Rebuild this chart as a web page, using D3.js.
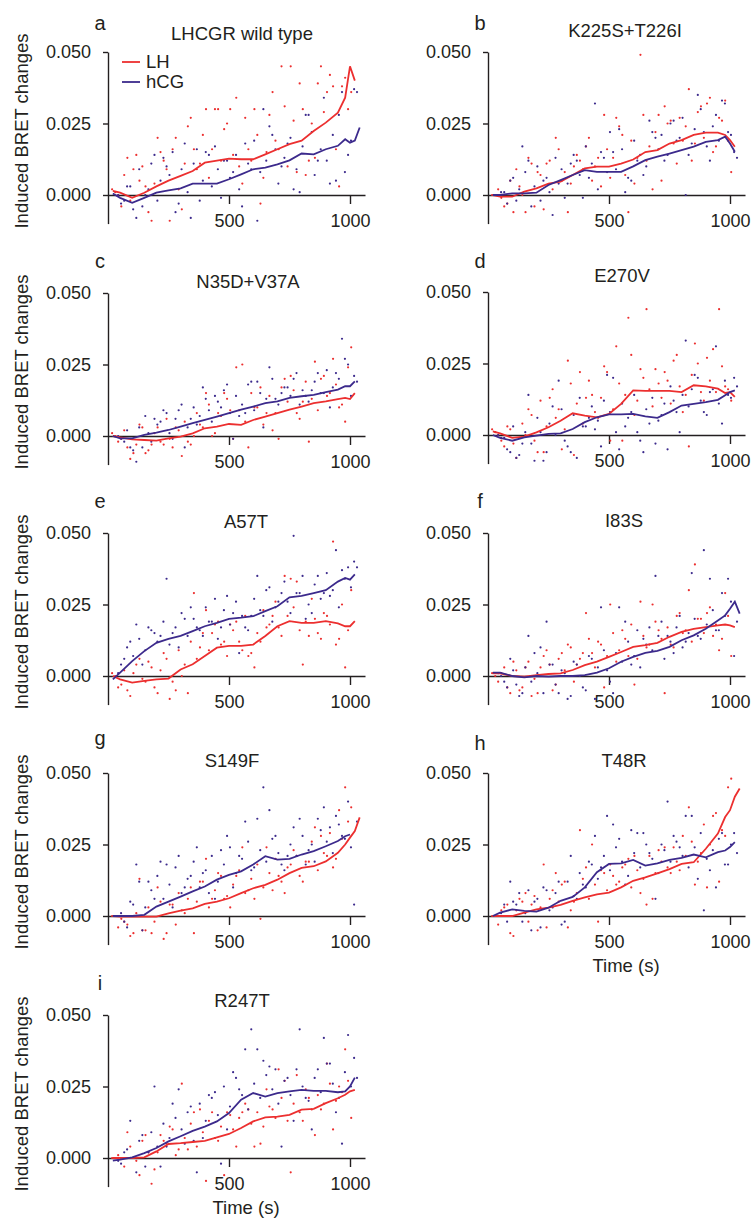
<!DOCTYPE html>
<meta charset="utf-8">

<script src="https://d3js.org/d3.v7.min.js"></script>

<style>
  body { margin: 0; background: #fff; }
  text { font-family: "Liberation Sans", Arial, sans-serif; fill: #231f20; }
  .axis path, .axis line { stroke: #231f20; stroke-width: 1.4px; }
  .axis text { font-size: 18px; }
</style>

<div id="chart"></div>

<script>
  // time points (s) of the smoothed traces
  const lineTime = [20, 50, 100, 150, 200, 250, 300, 350, 400, 450, 500, 550, 600, 650, 700, 750, 800, 850, 900, 950, 980, 1000, 1020, 1040];
  // time points (s) of the single readings (two interleaved sets per agonist)
  const dotTimeLH = [30, 55, 80, 105, 130, 155, 180, 205, 230, 255, 280, 305, 330, 355, 380, 405, 430, 455, 480, 505, 530, 555, 580, 605, 630, 655, 680, 705, 730, 755, 780, 805, 830, 855, 880, 905, 930, 955, 980, 1005];
  const dotTimeHCG = [42, 67, 92, 117, 142, 167, 192, 217, 242, 267, 292, 317, 342, 367, 392, 417, 442, 467, 492, 517, 542, 567, 592, 617, 642, 667, 692, 717, 742, 767, 792, 817, 842, 867, 892, 917, 942, 967, 992, 1017];
  const dotTimeLH2 = [17, 42, 67, 92, 117, 142, 167, 192, 217, 242, 267, 292, 317, 342, 367, 392, 417, 442, 467, 492, 517, 542, 567, 592, 617, 642, 667, 692, 717, 742, 767, 792, 817, 842, 867, 892, 917, 942, 967, 992];
  const dotTimeHCG2 = [54, 79, 104, 129, 154, 179, 204, 229, 254, 279, 304, 329, 354, 379, 404, 429, 454, 479, 504, 529, 554, 579, 604, 629, 654, 679, 704, 729, 754, 779, 804, 829, 854, 879, 904, 929, 954, 979, 1004, 1029];

  const yTicks = [0, 0.025, 0.05];
  const xTicks = [500, 1000];

  // a  LHCGR wild type
  const aLH = [.0014, .0008, -.001, .0008, .003, .005, .0067, .0084, .0113, .012, .0127, .0125, .0125, .0142, .016, .0178, .019, .0224, .0253, .0288, .034, .045, .040, null];
  const aHCG = [.0005, -.001, -.0027, -.001, .0008, .0016, .0023, .004, .004, .004, .0055, .0072, .009, .0096, .0107, .0121, .0145, .0142, .016, .0172, .0195, .0183, .019, .0236];
  const aLHdots = [.001, -.004, .013, .009, .005, .003, -.009, .020, .012, -.009, .020, -.005, .024, .016, .011, .030, .016, .030, .023, .030, .034, .004, .016, .030, -.003, .015, .036, .016, .031, .045, .008, .030, .012, .013, .045, .036, .038, .003, .041, .036];
  const aHCGdots = [.000, -.002, .003, -.008, -.004, .002, .014, .005, .010, .015, -.003, .018, -.008, .016, .005, .014, .017, -.001, .012, .008, .002, .018, .009, -.009, .030, .024, .016, .010, .018, .002, .001, .028, .022, .012, .034, .004, .005, .036, .014, .037];
  const aLHdots2 = [.002, .000, .007, -.002, .014, .010, -.006, .004, .015, .009, .016, .002, .011, .027, .009, .021, .006, .030, .012, .025, .014, .010, .027, .012, .021, .006, .028, .019, .045, .010, .026, .039, .007, .025, .039, .029, .042, .016, .038, .030];
  const aHCGdots2 = [-.003, .003, -.005, .009, .000, .011, -.002, .013, .007, -.006, .009, .001, .011, -.002, .015, .003, .009, .012, .006, .014, -.004, .011, .019, .008, .012, .021, .004, .013, .020, .009, .017, .028, .007, .016, .012, .021, .028, .008, .019, .036];

  // b  K225S+T226I
  const bLH = [0, -.0006, -.0006, .0012, .0023, .004, .0047, .007, .0093, .0099, .0099, .011, .0124, .015, .0157, .018, .0192, .021, .0218, .0218, .021, .0192, .0169, null];
  const bHCG = [0, 0, .0006, .0006, .0008, .0035, .0052, .007, .0087, .0081, .0081, .0081, .010, .0122, .0134, .0145, .0157, .0169, .0186, .0192, .0204, .018, .0151, null];
  const bLHdots = [.000, -.001, -.003, -.006, .003, -.006, .011, .008, -.005, .012, .020, .005, -.006, .010, .012, .017, .005, .013, .028, .006, .027, .021, -.006, .004, .049, .012, .002, .028, .031, .026, .011, .019, .037, .018, .031, .032, .015, .027, .033, .008];
  const bHCGdots = [.000, .001, .005, -.002, .017, .012, .003, -.002, .006, -.007, .004, -.001, .011, .012, -.001, .006, .032, .015, .008, .015, .023, .001, .005, .012, .007, .026, .020, .021, .014, .026, .020, .000, .018, .035, .022, .012, .028, .033, .022, .015];
  const bLHdots2 = [.000, .002, -.004, .005, .009, .000, .013, -.004, .007, .011, .002, .016, .008, .004, .014, .009, .020, .010, .003, .016, .013, .024, .007, .019, .013, .028, .017, .022, .005, .025, .018, .027, .024, .012, .029, .020, .034, .017, .026, .019];
  const bHCGdots2 = [.001, -.003, .006, .002, .008, -.004, .010, .005, .001, .013, .009, .004, .014, .007, .017, .011, .002, .013, .022, .009, .016, .006, .019, .014, .010, .022, .016, .012, .025, .019, .027, .014, .023, .030, .017, .024, .019, .032, .021, .013];

  // c  N35D+V37A
  const cLH = [0, -.0005, -.0012, -.0014, -.0016, -.0008, -.0002, .0009, .0027, .0033, .0042, .0039, .0056, .0068, .008, .0092, .0103, .0115, .0121, .0129, .0133, .0129, .015, null];
  const cHCG = [0, -.0008, -.0008, .0004, .0012, .0021, .0033, .0045, .0056, .0068, .008, .0092, .0103, .0115, .0121, .0133, .0139, .0144, .0153, .0162, .0174, .0174, .0191, null];
  const cLHdots = [.000, -.001, -.004, -.006, .004, -.006, -.003, .003, -.003, -.001, .003, -.007, -.002, .000, .004, .015, .000, .008, .015, .009, .024, .025, -.004, .010, .017, .008, .002, -.001, .020, .021, .008, .012, -.002, .026, .020, .014, .027, .010, .005, .031];
  const cHCGdots = [.000, -.002, -.004, -.009, -.004, .001, .006, .005, .008, -.001, .009, -.004, .006, .004, .017, .009, .014, .010, .018, -.001, .007, .008, .019, .019, .003, .024, .013, .015, .017, .020, .011, .014, .016, .022, .015, .010, .022, .034, .025, .021];
  const cLHdots2 = [.001, -.002, .002, -.008, -.003, .003, -.005, .001, -.002, .006, -.004, .002, .005, -.003, .008, .003, .011, .001, .007, .013, -.001, .009, .005, .015, .010, .004, .014, .008, .017, .012, .016, .006, .019, .013, .009, .021, .015, .018, .011, .024];
  const cHCGdots2 = [-.001, .002, -.005, .003, .007, -.002, .004, .009, .001, .006, .011, .003, .010, .007, .013, .005, .012, .016, .008, .014, .011, .018, .009, .015, .013, .020, .011, .017, .014, .022, .016, .012, .019, .015, .023, .017, .020, .027, .014, .019];

  // d  E270V
  const dLH = [.0013, .0006, -.001, -.0006, .0009, .0027, .005, .0076, .0068, .0062, .0074, .0109, .0156, .0154, .0154, .0154, .015, .0174, .017, .0162, .0147, .015, .0133, null];
  const dHCG = [0, -.001, -.002, -.0008, -.0002, .0004, .0006, .0021, .0045, .0062, .0072, .0072, .0074, .0065, .006, .008, .0103, .0109, .0115, .0123, .0139, .015, .0156, null];
  const dLHdots = [.001, -.002, .003, -.003, -.001, .000, .007, -.006, -.006, .013, .006, -.005, .026, -.007, .022, .013, .014, .006, .024, -.002, .031, -.002, .041, .007, .023, .044, .010, .018, .022, .011, .028, .008, -.004, .032, .015, .027, .030, .044, .017, .012];
  const dHCGdots = [.000, -.001, -.006, -.008, -.003, .014, -.009, .001, -.006, .010, .019, -.002, -.006, -.008, .003, .006, .002, -.004, .021, .020, -.005, .003, .008, .001, -.006, .004, -.003, .007, -.005, .012, .001, .033, .016, .020, .008, .015, .031, .004, .014, .020];
  const dLHdots2 = [.002, .000, -.004, .002, -.008, .004, .009, -.002, .012, .003, .016, .009, .002, .018, .011, .004, .019, .008, .013, .022, .009, .018, .014, .028, .012, .020, .016, .023, .013, .019, .026, .017, .014, .021, .025, .012, .019, .015, .024, .016];
  const dHCGdots2 = [-.001, -.005, .003, -.007, .001, -.003, .006, -.009, .004, .000, .009, -.004, .007, .013, .003, .010, .005, .012, .008, .001, .011, .006, .014, -.002, .009, .013, .005, .011, .017, .008, .014, .010, .021, .012, .007, .016, .011, .019, .013, .017];

  // e  A57T
  const eLH = [0, -.0012, -.0023, -.0017, -.0012, -.0009, .0023, .0041, .007, .0099, .0105, .0105, .011, .014, .0174, .0192, .0186, .0186, .0192, .0184, .0174, .0174, .0192, null];
  const eHCG = [-.0012, .0012, .0052, .0087, .0116, .013, .014, .0157, .0174, .0186, .020, .0204, .0209, .0227, .0244, .0275, .028, .029, .030, .033, .0343, .0337, .0355, null];
  const eLHdots = [.000, -.003, -.005, .001, .006, -.002, .003, -.006, .008, -.008, -.005, .000, -.006, .029, .010, .023, .015, .019, .012, .018, .019, .009, .007, .003, .012, .017, .021, .017, .035, .034, .033, .004, .014, .020, .013, .021, .047, .013, .003, .030];
  const eHCGdots = [.001, .006, .012, .018, .004, .017, .015, .014, .034, .015, .010, .020, .024, .017, .014, .019, .027, .017, .028, .022, .008, .017, .021, .035, .021, .031, .024, .029, .026, .049, .029, .020, .022, .035, .029, .028, .044, .037, .038, .040];
  const eLHdots2 = [.001, -.004, .002, -.007, .004, -.001, .005, -.004, .002, .006, -.002, .009, .004, .012, .006, .015, .009, .018, .011, .007, .016, .012, .021, .008, .015, .023, .018, .026, .014, .021, .024, .016, .019, .027, .015, .022, .018, .011, .025, .016];
  const eHCGdots2 = [.004, .010, .007, .013, .009, .016, .012, .019, .011, .017, .022, .014, .020, .016, .024, .019, .013, .023, .018, .026, .021, .016, .027, .023, .030, .019, .026, .033, .022, .029, .035, .025, .032, .027, .036, .030, .024, .034, .031, .038];

  // f  I83S
  const fLH = [.0009, .0009, 0, -.0002, .0003, .0007, .0009, .0021, .0038, .005, .0067, .0084, .0102, .0108, .0116, .0137, .0154, .0165, .0171, .0177, .018, .0177, .0171, null];
  const fHCG = [.0012, .0012, 0, -.0005, 0, -.0002, 0, 0, .0003, .0012, .0027, .005, .0067, .0081, .0088, .0102, .0125, .0142, .0165, .0194, .0212, .0235, .026, .0218];
  const fLHdots = [.000, .001, -.004, .005, -.005, .003, -.007, -.006, .007, .004, -.003, .008, .011, -.002, .006, .022, .008, .012, -.004, .025, .005, .016, .007, -.003, .026, .010, .025, .016, -.006, .011, .021, .015, .030, .039, .020, .022, .014, .009, .029, .007];
  const fHCGdots = [.001, -.002, .006, -.003, -.006, .014, .008, .010, .019, .004, -.006, .001, -.007, .004, -.004, .007, -.008, .024, .002, -.006, .024, .019, .004, .016, .013, .017, .035, .019, .014, .008, .021, .012, .036, .014, .044, .034, .016, .029, .034, .007];
  const fLHdots2 = [.001, -.002, .003, -.006, .002, -.004, .005, -.001, .003, .009, -.005, .006, .002, .010, .004, .008, .013, .003, .011, .007, .015, .009, .013, .018, .006, .014, .011, .019, .013, .017, .010, .022, .016, .012, .020, .015, .024, .018, .013, .021];
  const fHCGdots2 = [.000, -.004, .002, -.007, .003, -.002, .001, -.006, .004, -.003, .002, -.008, .005, .000, -.005, .006, .003, .009, -.002, .008, .005, .012, .007, .003, .011, .009, .014, .006, .012, .017, .010, .015, .020, .013, .018, .023, .016, .021, .026, .019];

  // g  S149F
  const gLH = [0, -.0002, -.0002, -.0002, -.0002, .0009, .0019, .0027, .0042, .005, .0062, .008, .0097, .0109, .0127, .015, .0168, .0174, .0191, .0221, .025, .0274, .0297, .0345];
  const gHCG = [0, 0, 0, .0004, .0033, .005, .0068, .0086, .0103, .0127, .0144, .0156, .018, .0209, .0197, .020, .0215, .0227, .0244, .0262, .0279, .0285, null, null];
  const gLHdots = [.000, -.001, -.003, -.006, .013, -.005, -.006, .010, -.008, .004, -.003, .002, .006, -.006, .012, .020, .006, .015, .006, .003, .014, .024, .009, .006, -.001, .024, .009, .014, .008, .018, .021, .012, .019, .031, .028, .021, .017, .037, .045, .038];
  const gHCGdots = [.000, -.002, .005, .018, -.005, .012, .006, .019, .018, .003, .021, .010, .014, .024, .015, .008, .006, .023, .028, .010, .021, .033, .016, .034, .045, .037, .028, .018, .021, .031, .034, .018, .025, .034, .038, .031, .035, .028, .040, .004];
  const gLHdots2 = [.000, -.004, -.002, -.007, .001, -.005, .003, -.002, .005, -.006, .004, .008, .001, .010, .005, .012, .003, .009, .014, .007, .011, .016, .008, .013, .018, .010, .015, .020, .012, .017, .023, .014, .019, .026, .016, .022, .029, .020, .027, .033];
  const gHCGdots2 = [.001, -.004, .004, .012, .003, .009, .014, .006, .011, .017, .008, .013, .019, .010, .016, .021, .012, .018, .024, .015, .020, .026, .017, .023, .019, .027, .022, .016, .025, .021, .028, .023, .019, .030, .026, .022, .032, .027, .024, .033];

  // h  T48R
  const hLH = [0, 0, 0, .0012, .0023, .0029, .0039, .0053, .0065, .0076, .0082, .010, .0123, .0135, .0149, .0164, .0182, .0188, .0235, .0288, .0346, .037, .0417, .0446];
  const hHCG = [0, .0012, .0023, .0018, .0015, .0029, .0053, .0067, .010, .0153, .0182, .0184, .0196, .0176, .0184, .0196, .0203, .0215, .0205, .0223, .0229, .0241, .0258, null];
  const hLHdots = [.000, .002, .004, -.007, .006, .008, .004, -.005, .018, .006, .015, .011, -.004, .005, .030, .017, .025, -.002, .015, .018, .011, .017, .020, .021, .008, .004, .006, .023, .024, .015, .019, .028, .038, .011, .022, .010, .035, .012, .028, .048];
  const hHCGdots = [.000, .004, .012, .004, -.002, .009, .005, -.004, .009, .003, .012, -.002, .021, .006, .011, .019, .028, .017, .035, .032, .027, .011, .030, .029, .029, .022, .006, .025, .040, .028, .024, .035, .035, .013, .002, .016, .010, .029, .018, .029];
  const hLHdots2 = [.000, -.003, .003, -.006, .002, .005, -.002, .007, .003, -.004, .009, .005, .012, .002, .008, .013, .006, .011, .016, .009, .014, .012, .018, .010, .016, .013, .021, .015, .019, .017, .024, .016, .021, .026, .019, .032, .025, .036, .030, .045];
  const hHCGdots2 = [.001, -.002, .005, .008, .001, -.005, .006, .010, .002, .008, -.003, .012, .007, .015, .010, .018, .013, .021, .016, .024, .019, .014, .022, .017, .025, .020, .015, .023, .019, .026, .021, .017, .024, .029, .020, .023, .027, .018, .025, .022];

  // i  R247T
  const iLH = [0, 0, 0, .0002, .0023, .0049, .0052, .0056, .006, .0072, .0084, .0105, .0128, .0142, .0145, .0151, .0169, .0172, .0192, .0209, .0221, .0233, .0238, null];
  const iHCG = [-.0009, -.0006, .0002, .0017, .0035, .0058, .0076, .0095, .011, .0128, .0157, .0204, .0227, .0215, .0227, .0233, .0238, .0235, .0235, .023, .0233, .025, .0281, null];
  const iLHdots = [.000, .000, .009, .000, -.006, .008, -.009, .002, .006, .011, .001, .026, .003, .016, .017, -.008, .016, .006, -.006, .015, .004, .016, .017, .004, .005, .024, .017, .031, .027, -.005, .029, .013, .021, .008, .017, .033, .010, .025, .038, .014];
  const iHCGdots = [-.001, .002, .013, -.005, .008, .002, .025, -.003, .004, .019, .024, .005, .018, -.005, .007, .022, .023, -.002, .010, .030, .024, .038, .045, .038, .034, .032, .031, .004, .028, .013, .045, .021, .010, .031, .042, .033, .016, .005, .043, .035];
  const iLHdots2 = [.000, .001, -.003, .004, -.001, .006, .002, -.004, .008, .005, .010, .003, .007, .012, .004, .009, .013, .007, .011, .016, .010, .014, .019, .012, .016, .011, .018, .014, .021, .013, .019, .016, .024, .017, .022, .019, .026, .020, .023, .027];
  const iHCGdots2 = [-.002, .003, .000, .006, -.003, .009, .004, .012, .007, .014, .010, .016, .006, .019, .013, .021, .015, .025, .018, .028, .022, .017, .026, .021, .029, .024, .019, .027, .022, .031, .025, .020, .028, .023, .033, .026, .021, .030, .025, .028];

  const LH_COLOR = "#ec2f2f";
  const HCG_COLOR = "#3c2a8c";

  const colX = [108, 488];

  // panel table: title / letter placement offsets tuned per panel
  const panels = [
    { key: "a", title: "LHCGR wild type", col: 0, top: 52, tdx: 134, tdy: -12, ldy: -22, lh: aLH, hcg: aHCG, lhDots: [aLHdots, aLHdots2], hcgDots: [aHCGdots, aHCGdots2], legend: true },
    { key: "b", title: "K225S+T226I", col: 1, top: 52, tdx: 137, tdy: -15, ldy: -22, lh: bLH, hcg: bHCG, lhDots: [bLHdots, bLHdots2], hcgDots: [bHCGdots, bHCGdots2] },
    { key: "c", title: "N35D+V37A", col: 0, top: 293, tdx: 140, tdy: -5, ldy: -25, lh: cLH, hcg: cHCG, lhDots: [cLHdots, cLHdots2], hcgDots: [cHCGdots, cHCGdots2] },
    { key: "d", title: "E270V", col: 1, top: 292, tdx: 134, tdy: -10, ldy: -24, lh: dLH, hcg: dHCG, lhDots: [dLHdots, dLHdots2], hcgDots: [dHCGdots, dHCGdots2] },
    { key: "e", title: "A57T", col: 0, top: 533, tdx: 138, tdy: -5, ldy: -25, lh: eLH, hcg: eHCG, lhDots: [eLHdots, eLHdots2], hcgDots: [eHCGdots, eHCGdots2] },
    { key: "f", title: "I83S", col: 1, top: 533, tdx: 136, tdy: -6, ldy: -25, lh: fLH, hcg: fHCG, lhDots: [fLHdots, fLHdots2], hcgDots: [fHCGdots, fHCGdots2] },
    { key: "g", title: "S149F", col: 0, top: 773, tdx: 124, tdy: -6, ldy: -28, lh: gLH, hcg: gHCG, lhDots: [gLHdots, gLHdots2], hcgDots: [gHCGdots, gHCGdots2] },
    { key: "h", title: "T48R", col: 1, top: 773, tdx: 136, tdy: -6, ldy: -23, lh: hLH, hcg: hHCG, lhDots: [hLHdots, hLHdots2], hcgDots: [hHCGdots, hHCGdots2], xlabel: true },
    { key: "i", title: "R247T", col: 0, top: 1015, tdx: 134, tdy: -8, ldy: -25, lh: iLH, hcg: iHCG, lhDots: [iLHdots, iLHdots2], hcgDots: [iHCGdots, iHCGdots2], xlabel: true }
  ];

  const width = 756, height = 1218;
  const plotW = 257, plotH = 171.6;

  const svg = d3.select("#chart")
    .append("svg")
    .attr("width", width)
    .attr("height", height);

  const x = d3.scaleLinear().domain([0, 1062]).range([0, plotW]);
  const y = d3.scaleLinear().domain([-0.01, 0.05]).range([plotH, 0]);

  const line = d3.line()
    .defined(d => d[1] != null)
    .x(d => x(d[0]))
    .y(d => y(d[1]));

  function drawDots(g, times, values, color) {
    g.append("g").selectAll("circle")
      .data(values.map((v, i) => [times[i], v]))
      .join("circle")
      .attr("cx", d => x(d[0]))
      .attr("cy", d => y(d[1]))
      .attr("r", 1.1)
      .attr("fill", color);
  }

  panels.forEach(p => {
    const ox = colX[p.col];
    const g = svg.append("g").attr("transform", `translate(${ox},${p.top})`);

    // y axis
    g.append("g")
      .attr("class", "axis")
      .call(d3.axisLeft(y).tickValues(yTicks).tickFormat(d3.format(".3f"))
        .tickSize(5).tickSizeOuter(0).tickPadding(12));

    // x axis sits on the zero line
    g.append("g")
      .attr("class", "axis")
      .attr("transform", `translate(0,${y(0)})`)
      .call(d3.axisBottom(x).tickValues(xTicks).tickFormat(d3.format("d"))
        .tickSize(9).tickSizeOuter(0).tickPadding(10));

    // single readings
    drawDots(g, dotTimeLH, p.lhDots[0], LH_COLOR);
    drawDots(g, dotTimeLH2, p.lhDots[1], LH_COLOR);
    drawDots(g, dotTimeHCG, p.hcgDots[0], HCG_COLOR);
    drawDots(g, dotTimeHCG2, p.hcgDots[1], HCG_COLOR);

    // smoothed traces
    g.append("path")
      .datum(p.lh.map((v, i) => [lineTime[i], v]))
      .attr("d", line)
      .attr("fill", "none")
      .attr("stroke", LH_COLOR)
      .attr("stroke-width", 1.8);

    g.append("path")
      .datum(p.hcg.map((v, i) => [lineTime[i], v]))
      .attr("d", line)
      .attr("fill", "none")
      .attr("stroke", HCG_COLOR)
      .attr("stroke-width", 1.8);

    // panel letter and title
    g.append("text")
      .attr("x", -8)
      .attr("y", p.ldy)
      .attr("text-anchor", "middle")
      .style("font-size", "20px")
      .text(p.key);

    g.append("text")
      .attr("x", p.tdx)
      .attr("y", p.tdy)
      .attr("text-anchor", "middle")
      .style("font-size", "18.5px")
      .text(p.title);

    if (p.col === 0) {
      g.append("text")
        .attr("transform", `translate(${28 - ox},79) rotate(-90)`)
        .attr("text-anchor", "middle")
        .style("font-size", "18.5px")
        .text("Induced BRET changes");
    }

    if (p.xlabel) {
      g.append("text")
        .attr("x", 138)
        .attr("y", y(0) + 56)
        .attr("text-anchor", "middle")
        .style("font-size", "18.5px")
        .text("Time (s)");
    }

    if (p.legend) {
      const items = [["LH", LH_COLOR], ["hCG", HCG_COLOR]];
      items.forEach((it, i) => {
        g.append("line")
          .attr("x1", 14).attr("x2", 32)
          .attr("y1", 10 + i * 20).attr("y2", 10 + i * 20)
          .attr("stroke", it[1])
          .attr("stroke-width", 1.8);
        g.append("text")
          .attr("x", 38)
          .attr("y", 16 + i * 20)
          .style("font-size", "18.5px")
          .text(it[0]);
      });
    }
  });
</script>
